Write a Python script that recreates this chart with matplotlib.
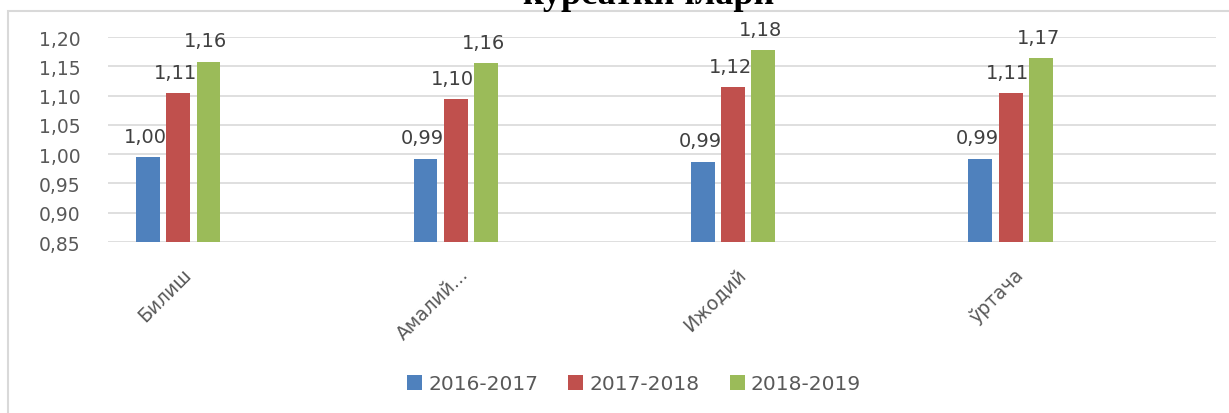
import matplotlib.pyplot as plt
from matplotlib.patches import Rectangle
from matplotlib.ticker import FuncFormatter
from matplotlib.transforms import ScaledTranslation
import numpy as np

categories = ["Билиш", "Амалий...", "Ижодий", "ўртача"]
series_names = ["2016-2017", "2017-2018", "2018-2019"]
vals_2016 = [0.995, 0.992, 0.987, 0.992]
vals_2017 = [1.104, 1.094, 1.114, 1.104]
vals_2018 = [1.158, 1.155, 1.178, 1.164]
labels_2016 = ["1,00", "0,99", "0,99", "0,99"]
labels_2017 = ["1,11", "1,10", "1,12", "1,11"]
labels_2018 = ["1,16", "1,16", "1,18", "1,17"]
title = "кўрсаткичлари"

colors = ["#4F81BD", "#C0504D", "#9BBB59"]
text_col = "#595959"

W, H = 1229, 414
fig = plt.figure(figsize=(W / 100, H / 100), dpi=100)

# chart frame (light grey border, partly outside the picture)
fig.patches.append(Rectangle((8 / W, -0.1), 1.2, 1 - 12 / H + 0.1, transform=fig.transFigure,
                             fill=False, edgecolor="#D9D9D9", linewidth=1.5, zorder=0))

# title, cut off at the top edge like in the source
fig.text(648 / W, 1 - 4 / H, title, ha="center", va="baseline",
         fontsize=26, fontweight="bold", family="Liberation Serif", color="black")

ax = fig.add_axes([108 / W, 1 - 243 / H, (1216 - 108) / W, (243 - 38) / H])

x = np.arange(len(categories))
width = 0.086
step = 0.109
all_vals = [vals_2016, vals_2017, vals_2018]
all_labels = [labels_2016, labels_2017, labels_2018]
for i, (vals, labs) in enumerate(zip(all_vals, all_labels)):
    xs = x + (i - 1) * step
    ax.bar(xs, np.array(vals) - 0.85, width, bottom=0.85, color=colors[i],
           label=series_names[i], zorder=3)
    for xi, v, lab in zip(xs, vals, labs):
        ax.annotate(lab, (xi, v), xytext=(-2, 15), textcoords="offset points",
                    ha="center", va="center", fontsize=14, color="#404040", zorder=4)

ax.set_ylim(0.85, 1.20)
ax.set_xlim(-0.253, 3.74)
ax.set_yticks(np.arange(0.85, 1.2001, 0.05))
ax.yaxis.set_major_formatter(FuncFormatter(lambda v, p: f"{v:.2f}".replace(".", ",")))
ax.grid(axis="y", color="#D9D9D9", linewidth=1.2, zorder=0)
for s in ax.spines.values():
    s.set_visible(False)
ax.tick_params(axis="y", length=0, pad=20, labelsize=13.5, labelcolor=text_col)
ax.set_xticks(x)
ax.set_xticklabels(categories, rotation=45, ha="right", rotation_mode="anchor",
                   fontsize=13.5, color=text_col)
ax.tick_params(axis="x", length=0, pad=16)
for lbl in ax.get_xticklabels():
    lbl.set_transform(lbl.get_transform() + ScaledTranslation(3 / 100, 0, fig.dpi_scale_trans))

fig.legend(loc="center", bbox_to_anchor=(634 / W, 1 - 385 / H), ncol=3, frameon=False,
           fontsize=14.5, labelcolor=text_col, handlelength=0.75, handleheight=0.75,
           handletextpad=0.3, columnspacing=1.5)

fig.savefig("out.png", dpi=100)
